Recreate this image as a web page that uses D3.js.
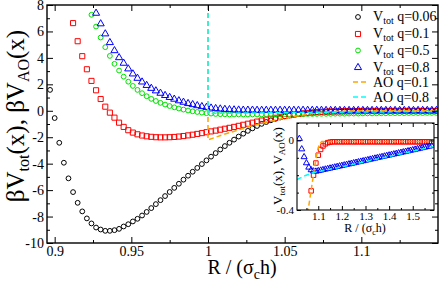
<!DOCTYPE html>
<html>
<head>
<meta charset="utf-8">
<script src="https://unpkg.com/d3@7.8.5/dist/d3.min.js"></script>
<style>
    body { margin: 0; background: #fff; }
    svg { display: block; font-family: "Liberation Serif", "Times New Roman", serif; }
</style>
</head>
<body>
<div id="chart"></div>
<script>
// main panel: common R grid of the simulation points
let xs = [0.897,0.900,0.903,0.906,0.909,0.912,0.915,0.918,0.921,0.924,
    0.927,0.930,0.933,0.936,0.939,0.942,0.945,0.948,0.951,0.954,
    0.957,0.960,0.963,0.966,0.969,0.972,0.975,0.978,0.981,0.984,
    0.987,0.990,0.993,0.996,0.999,1.002,1.005,1.008,1.011,1.014,
    1.017,1.020,1.023,1.026,1.029,1.032,1.035,1.038,1.041,1.044,
    1.047,1.050,1.053,1.056,1.059,1.062,1.065,1.068,1.071,1.074,
    1.077,1.080,1.083,1.086,1.089,1.092,1.095,1.098,1.101,1.104,
    1.107,1.110,1.113,1.116,1.119,1.122,1.125,1.128,1.131,1.134,
    1.137,1.140,1.143,1.146,1.149];

let vTot006 = [1.58,-0.55,-2.42,-3.93,-5.11,-6.15,-6.96,-7.61,-8.14,-8.52,
    -8.83,-8.98,-9.08,-9.08,-9.03,-8.93,-8.75,-8.58,-8.37,-8.17,
    -7.92,-7.65,-7.36,-7.06,-6.76,-6.45,-6.14,-5.83,-5.52,-5.21,
    -4.91,-4.61,-4.32,-4.03,-3.75,-3.47,-3.20,-2.93,-2.67,-2.42,
    -2.18,-1.95,-1.73,-1.52,-1.33,-1.15,-0.99,-0.85,-0.72,-0.61,
    -0.51,-0.42,-0.35,-0.29,-0.24,-0.20,-0.17,-0.14,-0.12,-0.10,
    -0.09,-0.08,-0.07,-0.07,-0.06,-0.06,-0.05,-0.05,-0.05,-0.04,
    -0.04,-0.04,-0.04,-0.03,-0.03,-0.03,-0.03,-0.03,-0.03,-0.02,
    -0.02,-0.02,-0.02,-0.02,-0.02];

let vTot01 = [null,null,null,null,null,6.63,5.26,4.13,3.14,2.26,
    1.55,0.89,0.31,-0.14,-0.52,-0.90,-1.22,-1.47,-1.65,-1.78,
    -1.87,-1.93,-1.97,-2.00,-2.01,-2.01,-2.00,-1.98,-1.95,-1.91,
    -1.86,-1.81,-1.75,-1.69,-1.62,-1.56,-1.50,-1.43,-1.36,-1.29,
    -1.22,-1.14,-1.06,-0.98,-0.90,-0.82,-0.74,-0.67,-0.60,-0.53,
    -0.46,-0.40,-0.34,-0.29,-0.24,-0.20,-0.16,-0.13,-0.10,-0.08,
    -0.06,-0.05,-0.04,-0.03,-0.03,-0.02,-0.02,-0.02,-0.01,-0.01,
    -0.01,-0.01,-0.01,-0.01,-0.01,-0.01,-0.01,-0.01,-0.01,-0.01,
    -0.01,-0.01,-0.01,-0.01,-0.01];

let vTot05 = [null,null,null,null,null,null,null,null,null,7.26,
    6.37,5.54,4.81,4.15,3.55,3.04,2.58,2.20,1.88,1.58,
    1.33,1.10,0.90,0.74,0.60,0.47,0.36,0.26,0.17,0.09,
    0.02,-0.04,-0.09,-0.14,-0.18,-0.21,-0.24,-0.26,-0.27,-0.28,
    -0.28,-0.28,-0.28,-0.28,-0.28,-0.28,-0.27,-0.27,-0.27,-0.27,
    -0.26,-0.26,-0.26,-0.25,-0.25,-0.25,-0.24,-0.24,-0.24,-0.23,
    -0.23,-0.23,-0.22,-0.22,-0.22,-0.21,-0.21,-0.21,-0.20,-0.20,
    -0.20,-0.19,-0.19,-0.19,-0.18,-0.18,-0.18,-0.18,-0.17,-0.17,
    -0.17,-0.17,-0.16,-0.16,-0.16];

let vTot08 = [null,null,null,null,null,null,null,null,null,null,
    7.38,6.58,5.82,5.16,4.55,4.02,3.60,3.17,2.79,2.46,
    2.18,1.92,1.70,1.51,1.33,1.16,1.01,0.88,0.76,0.65,
    0.55,0.47,0.39,0.32,0.26,0.21,0.17,0.14,0.11,0.09,
    0.07,0.06,0.05,0.05,0.05,0.04,0.04,0.04,0.04,0.04,
    0.04,0.04,0.04,0.04,0.04,0.04,0.04,0.04,0.04,0.04,
    0.03,0.03,0.03,0.03,0.03,0.03,0.03,0.03,0.03,0.03,
    0.03,0.03,0.03,0.03,0.03,0.03,0.03,0.03,0.03,0.03,
    0.03,0.03,0.03,0.03,0.03];

// AO curves (main panel), wall at R = 1
let aoX01 = [1.000,1.000,1.005,1.010,1.015,1.020,1.025,1.030,1.035,1.040,1.045,1.050,
    1.055,1.060,1.065,1.070,1.075,1.080,1.085,1.090,1.095,1.100,1.150];
let aoY01 = [8,-2.20,-2.00,-1.80,-1.62,-1.44,-1.27,-1.11,-0.96,-0.82,-0.68,-0.56,
    -0.45,-0.35,-0.27,-0.19,-0.13,-0.08,-0.045,-0.02,-0.005,0,0];
let aoX08 = [1.000,1.000,1.050,1.100,1.150];
let aoY08 = [8,-0.20,-0.14,-0.09,-0.07];

// inset
let insX = [1.02,1.03,1.04,1.05,1.06,1.07,1.08,1.09,1.10,1.11,
    1.12,1.13,1.14,1.15,1.16,1.17,1.18,1.19,1.20,1.21,
    1.22,1.23,1.24,1.25,1.26,1.27,1.28,1.29,1.30,1.31,
    1.32,1.33,1.34,1.35,1.36,1.37,1.38,1.39,1.40,1.41,
    1.42,1.43,1.44,1.45,1.46,1.47,1.48,1.49,1.50,1.51,
    1.52,1.53,1.54,1.55,1.56,1.57,1.58];
let insRed = [null,null,null,null,null,-0.290,-0.200,-0.130,-0.085,-0.052,
    -0.032,-0.020,-0.013,-0.010,-0.008,-0.008,-0.008,-0.008,-0.008,-0.008,
    -0.008,-0.008,-0.008,-0.008,-0.008,-0.008,-0.008,-0.008,-0.008,-0.008,
    -0.008,-0.008,-0.008,-0.008,-0.008,-0.008,-0.008,-0.008,-0.008,-0.008,
    -0.008,-0.008,-0.008,-0.008,-0.008,-0.008,-0.008,-0.008,-0.008,-0.008,
    -0.008,-0.008,-0.008,-0.008,-0.008,-0.008,-0.008];
let insBlue = [0.010,-0.050,-0.095,-0.130,-0.155,-0.170,-0.177,-0.178,-0.175,-0.172,
    -0.169,-0.166,-0.163,-0.160,-0.157,-0.154,-0.151,-0.148,-0.145,-0.142,
    -0.139,-0.136,-0.133,-0.130,-0.127,-0.124,-0.121,-0.118,-0.115,-0.112,
    -0.109,-0.106,-0.103,-0.100,-0.097,-0.094,-0.091,-0.088,-0.085,-0.082,
    -0.079,-0.076,-0.073,-0.070,-0.067,-0.064,-0.061,-0.058,-0.055,-0.052,
    -0.049,-0.046,-0.043,-0.040,-0.037,-0.034,-0.031];
let insAoX01 = [1.055,1.065,1.075,1.085,1.095,1.105,1.115,1.590];
let insAoY01 = [-0.42,-0.33,-0.24,-0.15,-0.07,-0.02,-0.006,-0.006];
let insAoX08 = [1.01,1.04,1.08,1.10,1.20,1.30,1.40,1.50,1.59];
let insAoY08 = [-0.225,-0.205,-0.185,-0.180,-0.152,-0.122,-0.092,-0.062,-0.035];

// ticks
let xMajor = [0.9, 0.95, 1, 1.05, 1.1];
let xMinor = [0.925, 0.975, 1.025, 1.075, 1.125];
let yMajor = [-10, -8, -6, -4, -2, 0, 2, 4, 6, 8];
let yMinor = [-9, -7, -5, -3, -1, 1, 3, 5, 7];
let insXMajor = [1.1, 1.2, 1.3, 1.4, 1.5];
let insXMinor = [1.05, 1.15, 1.25, 1.35, 1.45, 1.55];
let insYMajor = [-0.4, 0];
let insYMinor = [-0.3, -0.2, -0.1, 0.1];

let legendLabels = ["q=0.06", "q=0.1", "q=0.5", "q=0.8", "AO q=0.1", "AO q=0.8"];

let black = "#000000", red = "#ff0000", green = "#00e000", blue = "#0000ff";
let orange = "#ffa500", cyan = "#00ffff";

let width = 443;
let height = 281;

let svg = d3.select("#chart").append("svg")
    .attr("width", width)
    .attr("height", height);

let x = d3.scaleLinear().domain([0.895, 1.15]).range([47, 438]);
let y = d3.scaleLinear().domain([-10, 8]).range([243, 5]);

let ix = d3.scaleLinear().domain([1.01, 1.59]).range([297, 434]);
let iy = d3.scaleLinear().domain([-0.4, 0.1]).range([210, 123]);

svg.append("clipPath").attr("id", "mainClip")
    .append("rect").attr("x", 47).attr("y", 5).attr("width", 391).attr("height", 238);
svg.append("clipPath").attr("id", "insetClip")
    .append("rect").attr("x", 297).attr("y", 123).attr("width", 137).attr("height", 87);

function pairs(xv, yv) {
    let out = [];
    xv.forEach((v, i) => {
        if (yv[i] !== null) out.push({x: v, y: yv[i]});
    });
    return out;
}

function drawAxes(g, sx, sy, ticks, big, fontSize) {
    let r = sx.range(), d = sy.range();
    let majLen = big ? 6 : 4, minLen = big ? 3 : 2;
    let pad = big ? 3 : 2;
    let fmt = v => String(v);

    g.append("g").attr("transform", `translate(0,${d[0]})`)
        .call(d3.axisBottom(sx).tickValues(ticks.xMajor).tickFormat(fmt)
            .tickSizeInner(-majLen).tickSizeOuter(0).tickPadding(pad));
    g.append("g").attr("transform", `translate(0,${d[0]})`)
        .call(d3.axisBottom(sx).tickValues(ticks.xMinor).tickFormat("")
            .tickSizeInner(-minLen).tickSizeOuter(0));
    g.append("g").attr("transform", `translate(0,${d[1]})`)
        .call(d3.axisTop(sx).tickValues(ticks.xMajor).tickFormat("")
            .tickSizeInner(-majLen).tickSizeOuter(0));
    g.append("g").attr("transform", `translate(0,${d[1]})`)
        .call(d3.axisTop(sx).tickValues(ticks.xMinor).tickFormat("")
            .tickSizeInner(-minLen).tickSizeOuter(0));

    g.append("g").attr("transform", `translate(${r[0]},0)`)
        .call(d3.axisLeft(sy).tickValues(ticks.yMajor).tickFormat(fmt)
            .tickSizeInner(-majLen).tickSizeOuter(0).tickPadding(3));
    g.append("g").attr("transform", `translate(${r[0]},0)`)
        .call(d3.axisLeft(sy).tickValues(ticks.yMinor).tickFormat("")
            .tickSizeInner(-minLen).tickSizeOuter(0));
    g.append("g").attr("transform", `translate(${r[1]},0)`)
        .call(d3.axisRight(sy).tickValues(ticks.yMajor).tickFormat("")
            .tickSizeInner(-majLen).tickSizeOuter(0));
    g.append("g").attr("transform", `translate(${r[1]},0)`)
        .call(d3.axisRight(sy).tickValues(ticks.yMinor).tickFormat("")
            .tickSizeInner(-minLen).tickSizeOuter(0));

    g.selectAll(".domain").remove();
    g.selectAll(".tick line").attr("stroke", "#000");
    g.selectAll(".tick text")
        .attr("fill", "#000")
        .attr("font-family", "Liberation Serif, Times New Roman, serif")
        .attr("font-size", fontSize);

    g.append("rect")
        .attr("x", r[0]).attr("y", d[1])
        .attr("width", r[1] - r[0]).attr("height", d[0] - d[1])
        .attr("fill", "none").attr("stroke", "#000")
        .attr("stroke-width", big ? 1.4 : 1.1);
}

function drawSeries(g, sx, sy, data, kind, color, sz) {
    let pts = g.append("g");
    if (kind === "circle") {
        pts.selectAll("circle").data(data).join("circle")
            .attr("cx", d => sx(d.x))
            .attr("cy", d => sy(d.y))
            .attr("r", sz)
            .attr("fill", "none")
            .attr("stroke", color)
            .attr("stroke-width", 1);
    } else {
        let sym = d3.symbol().type(kind === "square" ? d3.symbolSquare : d3.symbolTriangle).size(sz);
        pts.selectAll("path").data(data).join("path")
            .attr("transform", d => `translate(${sx(d.x)},${sy(d.y)})`)
            .attr("d", sym)
            .attr("fill", "none")
            .attr("stroke", color)
            .attr("stroke-width", 1);
    }
}

function drawDashed(g, sx, sy, data, color) {
    let line = d3.line().x(d => sx(d.x)).y(d => sy(d.y));
    g.append("path")
        .datum(data)
        .attr("d", line)
        .attr("fill", "none")
        .attr("stroke", color)
        .attr("stroke-width", 1.5)
        .attr("stroke-dasharray", "5,3");
}

// main panel data
let main = svg.append("g").attr("clip-path", "url(#mainClip)");
drawSeries(main, x, y, pairs(xs, vTot006), "circle", black, 2.4);
drawSeries(main, x, y, pairs(xs, vTot01), "square", red, 26);
drawSeries(main, x, y, pairs(xs, vTot05), "circle", green, 2.4);
drawSeries(main, x, y, pairs(xs, vTot08), "triangle", blue, 22);
drawDashed(main, x, y, pairs(aoX01, aoY01), orange);
drawDashed(main, x, y, pairs(aoX08, aoY08), cyan);

drawAxes(svg.append("g"), x, y,
    {xMajor: xMajor, xMinor: xMinor, yMajor: yMajor, yMinor: yMinor}, true, 14);

// axis titles
let xTitle = svg.append("text")
    .attr("x", 242).attr("y", 274)
    .attr("text-anchor", "middle")
    .attr("font-size", 20);
xTitle.append("tspan").text("R / (σ");
xTitle.append("tspan").attr("font-size", 14).attr("dy", 5).text("c");
xTitle.append("tspan").attr("dy", -5).text("h)");

let yTitle = svg.append("text")
    .attr("transform", "translate(24,116) rotate(-90)")
    .attr("text-anchor", "middle")
    .attr("font-size", 25);
yTitle.append("tspan").text("βV");
yTitle.append("tspan").attr("font-size", 16).attr("dy", 5).text("tot");
yTitle.append("tspan").attr("dy", -5).text("(x), βV");
yTitle.append("tspan").attr("font-size", 16).attr("dy", 5).text("AO");
yTitle.append("tspan").attr("dy", -5).text("(x)");

// legend
let legendRows = [17, 34, 50.5, 67.5, 82, 97];
let legend = svg.append("g");
let legendKinds = [
    {kind: "circle", color: black, sz: 2.4},
    {kind: "square", color: red, sz: 26},
    {kind: "circle", color: green, sz: 2.4},
    {kind: "triangle", color: blue, sz: 22},
    {kind: "dash", color: orange},
    {kind: "dash", color: cyan}
];
let lx = d3.scaleLinear().domain([0, 1]).range([0, 1]);
legendKinds.forEach((k, i) => {
    let ry = legendRows[i];
    if (k.kind === "dash") {
        legend.append("line")
            .attr("x1", 353).attr("x2", 369)
            .attr("y1", ry).attr("y2", ry)
            .attr("stroke", k.color).attr("stroke-width", 1.5)
            .attr("stroke-dasharray", "5,3");
        legend.append("text")
            .attr("x", 373).attr("y", ry + 5)
            .attr("font-size", 14)
            .text(legendLabels[i]);
    } else {
        drawSeries(legend, lx, lx, [{x: 358, y: ry}], k.kind, k.color, k.sz);
        let t = legend.append("text")
            .attr("x", 373).attr("y", ry + 4)
            .attr("font-size", 14);
        t.append("tspan").text("V");
        t.append("tspan").attr("font-size", 10).attr("dy", 3).text("tot");
        t.append("tspan").attr("dy", -3).text(" " + legendLabels[i]);
    }
});

// inset
svg.append("rect")
    .attr("x", 297).attr("y", 123).attr("width", 137).attr("height", 87)
    .attr("fill", "#fff");
let inset = svg.append("g").attr("clip-path", "url(#insetClip)");
drawSeries(inset, ix, iy, pairs(insX, insRed), "square", red, 20);
drawSeries(inset, ix, iy, pairs(insX, insBlue), "triangle", blue, 16);
drawDashed(inset, ix, iy, pairs(insAoX01, insAoY01), orange);
drawDashed(inset, ix, iy, pairs(insAoX08, insAoY08), cyan);

drawAxes(svg.append("g"), ix, iy,
    {xMajor: insXMajor, xMinor: insXMinor, yMajor: insYMajor, yMinor: insYMinor}, false, 11);

let ixTitle = svg.append("text")
    .attr("x", 365).attr("y", 232)
    .attr("text-anchor", "middle")
    .attr("font-size", 12);
ixTitle.append("tspan").text("R / (σ");
ixTitle.append("tspan").attr("font-size", 8).attr("dy", 3).text("c");
ixTitle.append("tspan").attr("dy", -3).text("h)");

let iyTitle = svg.append("text")
    .attr("transform", "translate(282,166) rotate(-90)")
    .attr("text-anchor", "middle")
    .attr("font-size", 13);
iyTitle.append("tspan").text("V");
iyTitle.append("tspan").attr("font-size", 9).attr("dy", 3).text("tot");
iyTitle.append("tspan").attr("dy", -3).text("(x), V");
iyTitle.append("tspan").attr("font-size", 9).attr("dy", 3).text("AO");
iyTitle.append("tspan").attr("dy", -3).text("(x)");
</script>
</body>
</html>
